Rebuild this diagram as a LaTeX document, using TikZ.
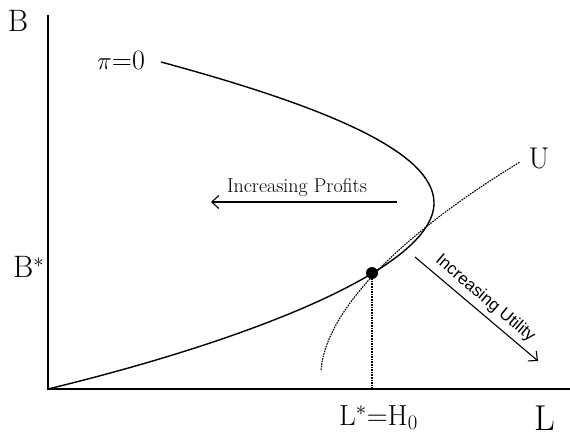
\documentclass[tikz,border=0pt]{standalone}
\usepackage{fontspec}
\newfontfamily\utilfont{Liberation Sans}
\usetikzlibrary{arrows.meta, positioning}

\begin{document}
\begin{tikzpicture}[
  x=1pt, y=-1pt,
  axis/.style={line width=1.1pt},
  curve/.style={line width=1.4pt},
  indiff/.style={line width=1.1pt, dash pattern=on 1.6pt off 1pt},
  arr/.style={-{Straight Barb[length=7pt, width=13pt]}, line width=1.1pt},
  lbl/.style={inner sep=0pt, font=\fontsize{31}{31}\selectfont},
  note/.style={inner sep=0pt, font=\fontsize{20}{20}\selectfont}
]
\useasboundingbox (0,0) rectangle (570,439);

% axes
\coordinate (O) at (48,389);
\coordinate (ytop) at (48,15);
\coordinate (xend) at (570,389);
\draw[axis] (ytop) -- (O) -- (xend);
\node[lbl] (Blab) at (18,21) {B};
\node[lbl, font=\fontsize{36}{36}\selectfont] (Llab) at (545,418) {L};

% zero profit curve
\draw[curve] (161,62) .. controls (331,108) and (434,153) .. (434,203)
  .. controls (434,268) and (250,340) .. (O);
\node[lbl, font=\fontsize{28}{28}\selectfont, anchor=base west] (pi0) at (97,69) {$\pi$=0};

% indifference curve
\draw[indiff] (321,370) .. controls (326,310) and (400,235) .. (520,162);
\node[lbl, font=\fontsize{30}{30}\selectfont, anchor=base] (Ulab) at (539,168) {U};

% optimum
\node[circle, fill, inner sep=0pt, minimum size=12pt] (E) at (372,273) {};
\draw[indiff] (E.center) -- (E |- O);
\node[lbl, font=\fontsize{29}{29}\selectfont, anchor=base west] (Lstar) at (339,425) {L$^*$=H$_0$};
\node[lbl, anchor=base west] (Bstar) at (13,277) {B$^*$};

% directions
\coordinate (pfrom) at (397,202);
\coordinate (pto) at (211,202);
\draw[arr] (pfrom) -- (pto);
\node[note, anchor=base] (plab) at (297,192) {Increasing Profits};

\coordinate (ufrom) at (415,257);
\coordinate (uto) at (538,361);
\draw[arr] (ufrom) -- (uto)
  node[midway, sloped, above=5pt, font=\utilfont\fontsize{17}{17}\selectfont, inner sep=0pt] (ulab) {Increasing Utility};
\end{tikzpicture}
\end{document}
